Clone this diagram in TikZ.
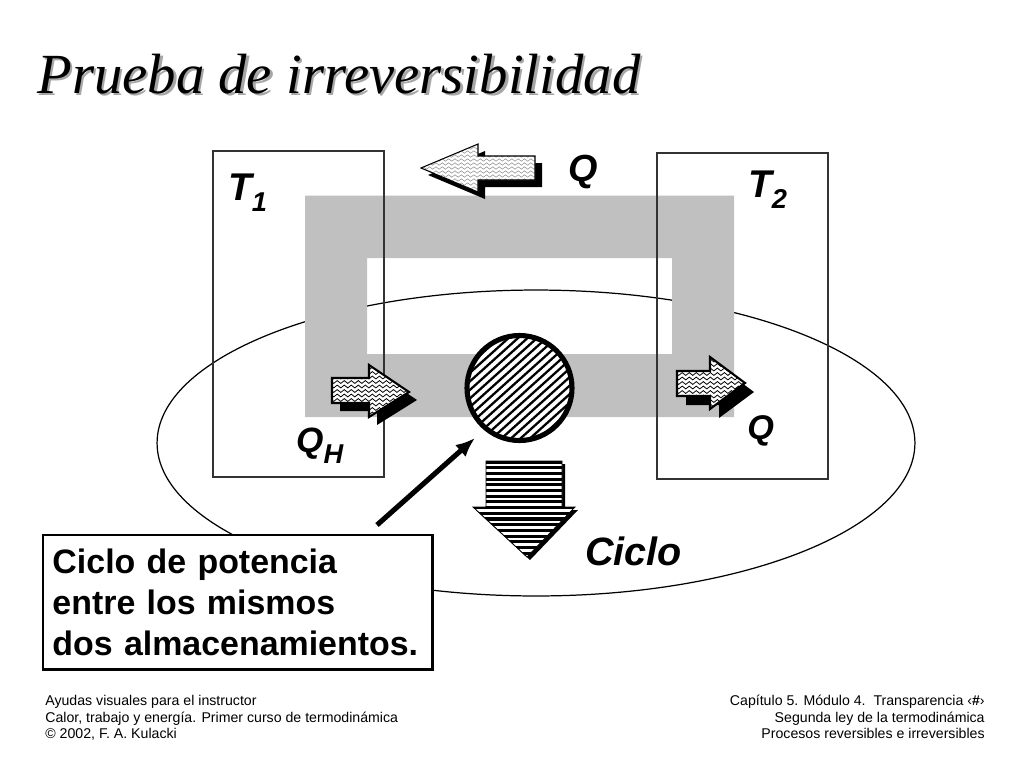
\documentclass[tikz,border=0pt]{standalone}
\usepackage{fontspec}
\setmainfont{Liberation Sans}
\newfontfamily\titlefont{Liberation Serif}
\usetikzlibrary{decorations.pathmorphing, shapes.geometric, arrows.meta}
\definecolor{bandgray}{RGB}{192,192,192}

\tikzset{
    label/.style={anchor=base west, inner sep=0pt, draw=none, text=black, font=\bfseries\itshape\fontsize{#1}{#1}\selectfont},
    foot/.style={inner sep=0pt, font=\fontsize{8.05}{9.35}\selectfont},
    thin box/.style={draw=black!80, line width=0.7pt},
    wave/.style={draw=black!45, line width=0.3pt, decorate, decoration={snake, amplitude=0.7pt, segment length=3.6pt}},
}
\newcommand{\subnum}[1]{\raisebox{-6.6pt}{\fontsize{15.5}{15.5}\selectfont #1}}

% arrow outlines, the corners are given in pixels of the slide
\newcommand{\leftshape}{(421,168) -- (478,144) -- (478,156) -- (535,156) -- (535,180) -- (478,180) -- (478,192) -- cycle}
\newcommand{\hshape}{(332,378) -- (369,378) -- (369,365) -- (409,392) -- (369,417) -- (369,403) -- (332,403) -- cycle}
\newcommand{\qshape}{(677,371) -- (710,371) -- (710,357) -- (745,383) -- (710,409) -- (710,396) -- (677,396) -- cycle}
\newcommand{\downshape}{(486,461) -- (562,461) -- (562,507) -- (575,507) -- (527,557) -- (473,507) -- (486,507) -- cycle}

\begin{document}
\begin{tikzpicture}[x=0.02cm, y=-0.02cm]
    \useasboundingbox (0,0) rectangle (1024,768);
    \fill[white] (0,0) rectangle (1024,768);

    % title with its shadow
    \node[anchor=base west, inner sep=0pt, text=black!35, font=\titlefont\itshape\fontsize{32.3}{32.3}\selectfont] (titleback) at (39.5,95.5) {Prueba de irreversibilidad};
    \node[anchor=base west, inner sep=0pt, font=\titlefont\itshape\fontsize{32.3}{32.3}\selectfont] (title) at (37,93) {Prueba de irreversibilidad};

    % ring of the cycle
    \node[draw=black, line width=0.7pt, shape=ellipse, minimum width=15.16cm, minimum height=6.12cm, inner sep=0pt] (ciclo) at (536,443) {};
    \fill[bandgray, even odd rule] (305,195.5) rectangle (734,417) (367,258) rectangle (672,354);

    % the two reservoirs
    \node[thin box, minimum width=3.42cm, minimum height=6.52cm, inner sep=0pt] (tuno) at (298.5,314) {};
    \node[thin box, minimum width=3.42cm, minimum height=6.52cm, inner sep=0pt] (tdos) at (742.5,316) {};

    % heat arrow on top
    \fill[black, shift={(7,7)}] \leftshape;
    \begin{scope}
        \fill[white] \leftshape;
        \clip \leftshape;
        \foreach \y in {144,148,...,192} {
            \draw[wave] (415,\y) -- (540,\y);
        }
    \end{scope}
    \draw[black, line width=0.6pt] \leftshape;

    % heat arrow QH
    \fill[black, shift={(8,8)}] \hshape;
    \begin{scope}
        \fill[white] \hshape;
        \clip \hshape;
        \foreach \y in {364,368.5,...,418} {
            \draw[wave, draw=black, line width=0.45pt, decoration={amplitude=0.8pt, segment length=4pt}] (328,\y) -- (412,\y);
        }
    \end{scope}
    \draw[black, line width=1.2pt] \hshape;

    % heat arrow Q on the right
    \fill[black, shift={(9,9)}] \qshape;
    \begin{scope}
        \fill[white] \qshape;
        \clip \qshape;
        \foreach \y in {356,360.5,...,410} {
            \draw[wave, draw=black, line width=0.45pt, decoration={amplitude=0.8pt, segment length=4pt}] (673,\y) -- (748,\y);
        }
    \end{scope}
    \draw[black, line width=1.2pt] \qshape;

    % engine
    \node[shape=circle, fill=white, minimum size=2.1cm, inner sep=0pt] (motor) at (519.5,388) {};
    \begin{scope}
        \clip (519.5,388) circle (52);
        \foreach \d in {-114,-104.5,...,114} {
            \draw[black, line width=1.3pt] (419.5+\d,478) -- (619.5+\d,298);
        }
    \end{scope}
    \draw[black, line width=2.9pt] (519.5,388) circle (52.5);

    % work arrow
    \fill[black, shift={(3,3)}] \downshape;
    \begin{scope}
        \fill[white] \downshape;
        \clip \downshape;
        \foreach \y in {462,467.7,...,558} {
            \draw[black, line width=1.8pt] (470,\y) -- (580,\y);
        }
    \end{scope}
    \draw[black, line width=0.5pt] \downshape;

    % note with its pointer
    \node[draw=black, line width=1.7pt, fill=white, anchor=north west, align=left, inner sep=0pt, minimum width=7.8cm, minimum height=2.7cm, text width=7.42cm, font=\bfseries\fontsize{19.3}{23.4}\selectfont] (nota) at (41.5,533.5) {Ciclo de potencia\\entre los mismos\\dos almacenamientos.};
    \coordinate (notatip) at (377,525);
    \coordinate (motortip) at (475,438);
    \draw[black, line width=2.9pt, -{Latex[length=11pt,width=9pt]}] (notatip) -- (motortip);

    % labels
    \node[label=22] (luno) at (228,200) {T\subnum{1}};
    \node[label=22] (ldos) at (748,197) {T\subnum{2}};
    \node[label=21.5] (qtop) at (568,181) {Q};
    \node[label=20] (qh) at (296,452) {Q\subnum{H}};
    \node[label=19.5] (qright) at (747,439) {Q};
    \node[label=22.5] (lciclo) at (585,565) {Ciclo};

    % footer
    \node[foot, anchor=north west, align=left] (footleft) at (45,695) {Ayudas visuales para el instructor\\Calor, trabajo y energía. Primer curso de termodinámica\\© 2002, F. A. Kulacki};
    \node[foot, anchor=north east, align=right] (footright) at (985,695) {Capítulo 5. Módulo 4.\ \ Transparencia ‹\textbf{\#}›\\Segunda ley de la termodinámica\\Procesos reversibles e irreversibles};
\end{tikzpicture}
\end{document}
